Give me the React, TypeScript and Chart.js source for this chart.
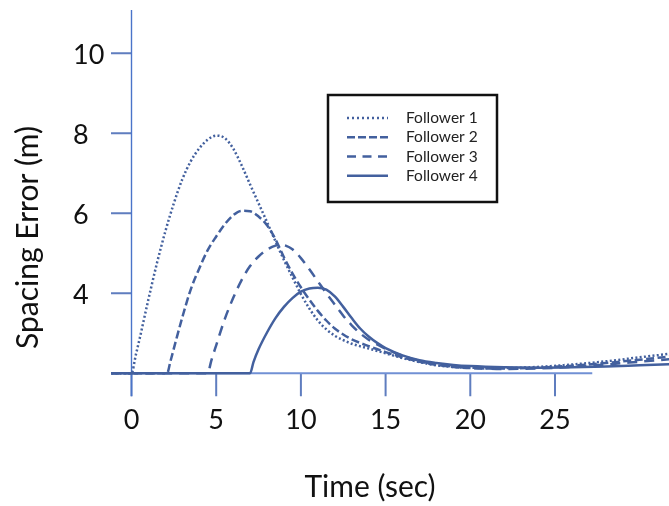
import React, { useEffect, useRef } from "react";
import { Chart, registerables } from "chart.js";

Chart.register(...registerables);

// ---- data (time in s, spacing error in m) ----
const f1Time = [-1.2, 0, 0.25, 0.5, 1, 1.5, 2, 2.5, 3, 3.5, 4, 4.5, 5, 5.5, 6, 6.5, 7, 7.5, 8, 8.5, 9, 9.5, 10, 10.5, 11, 11.5, 12, 12.5, 13, 14, 15, 16, 17, 18, 19, 20, 22, 24, 26, 28, 30, 32];
const f1Error = [2, 2, 2.45, 2.9, 3.85, 4.75, 5.55, 6.25, 6.85, 7.3, 7.62, 7.84, 7.94, 7.88, 7.62, 7.2, 6.72, 6.25, 5.78, 5.3, 4.83, 4.4, 3.98, 3.62, 3.32, 3.1, 2.94, 2.83, 2.74, 2.62, 2.5, 2.38, 2.28, 2.2, 2.16, 2.14, 2.13, 2.16, 2.22, 2.3, 2.4, 2.5];

const f2Time = [-1.2, 2.1, 2.3, 2.6, 3, 3.5, 4, 4.5, 5, 5.5, 6, 6.5, 7, 7.5, 8, 8.5, 9, 9.5, 10, 10.5, 11, 11.5, 12, 12.5, 13, 14, 15, 16, 17, 18, 19, 20, 22, 24, 26, 28, 30, 32];
const f2Error = [2, 2, 2.3, 2.78, 3.4, 4.1, 4.62, 5.08, 5.42, 5.72, 5.95, 6.06, 6.05, 5.92, 5.7, 5.35, 4.9, 4.5, 4.15, 3.84, 3.56, 3.32, 3.12, 2.97, 2.85, 2.68, 2.53, 2.4, 2.29, 2.21, 2.16, 2.13, 2.12, 2.14, 2.19, 2.26, 2.34, 2.43];

const f3Time = [-1.2, 4.5, 4.7, 5, 5.5, 6, 6.5, 7, 7.5, 8, 8.5, 8.8, 9.1, 9.5, 10, 10.5, 11, 11.5, 12, 12.5, 13, 13.5, 14, 14.5, 15, 16, 17, 18, 19, 20, 22, 24, 26, 28, 30, 32];
const f3Error = [2, 2, 2.3, 2.7, 3.35, 3.88, 4.33, 4.68, 4.92, 5.09, 5.19, 5.21, 5.19, 5.1, 4.88, 4.6, 4.3, 4.0, 3.72, 3.44, 3.2, 3.0, 2.84, 2.72, 2.61, 2.44, 2.31, 2.23, 2.17, 2.14, 2.11, 2.12, 2.16, 2.22, 2.29, 2.36];

const f4Time = [-1.2, 7, 7.2, 7.5, 8, 8.5, 9, 9.5, 10, 10.5, 11, 11.5, 12, 12.5, 13, 13.5, 14, 14.5, 15, 16, 17, 18, 19, 20, 22, 24, 26, 28, 30, 32];
const f4Error = [2, 2, 2.28, 2.6, 3.02, 3.38, 3.66, 3.88, 4.04, 4.12, 4.14, 4.09, 3.92, 3.66, 3.38, 3.12, 2.92, 2.76, 2.63, 2.45, 2.33, 2.26, 2.21, 2.18, 2.15, 2.14, 2.15, 2.17, 2.2, 2.23];

const seriesNames = ["Follower 1", "Follower 2", "Follower 3", "Follower 4"];
const xTicks = [0, 5, 10, 15, 20, 25];
const yTicks = [4, 6, 8, 10];
const xTitle = "Time (sec)";
const yTitle = "Spacing Error (m)";

// axis extents
const X_MIN = -1.21;
const X_MAX = 31.73;
const Y_MIN = 1.508;
const Y_MAX = 11.08;
const X_AXIS_FROM = -1.2;
const X_AXIS_TO = 27.2;
const Y_AXIS_BASE = 2;

const LINE = "#43609e";
const AXIS = "#4a74c9";
const TICK = "#5f7dbf";
const FONT = "Lato, 'Open Sans', sans-serif";

const plotDashes = [[2, 2.3], [8, 3.5], [10, 7], []];
const legendDashes = [[2, 3], [8, 3], [9, 6.5], []];

export default function App() {
  const ref = useRef<HTMLCanvasElement>(null);

  useEffect(() => {
    document.body.style.margin = "0";
    const canvas = ref.current!;
    const series = [
      [f1Time, f1Error],
      [f2Time, f2Error],
      [f3Time, f3Error],
      [f4Time, f4Error],
    ];

    const decor = {
      id: "decor",
      beforeDatasetsDraw(chart: any) {
        const { ctx, chartArea } = chart;
        const xs = chart.scales.x;
        const ys = chart.scales.y;
        const x0 = xs.getPixelForValue(0);
        const yb = ys.getPixelForValue(Y_AXIS_BASE);
        ctx.save();
        // tick marks
        ctx.strokeStyle = TICK;
        ctx.lineWidth = 2;
        ctx.beginPath();
        yTicks.forEach((v) => {
          const p = ys.getPixelForValue(v);
          ctx.moveTo(chartArea.left, p);
          ctx.lineTo(x0, p);
        });
        xTicks.forEach((v) => {
          const p = xs.getPixelForValue(v);
          ctx.moveTo(p, yb);
          ctx.lineTo(p, yb + 23);
        });
        ctx.stroke();
        // x axis line
        ctx.strokeStyle = "#7190d4";
        ctx.lineWidth = 2;
        ctx.beginPath();
        ctx.moveTo(xs.getPixelForValue(X_AXIS_FROM), yb);
        ctx.lineTo(xs.getPixelForValue(X_AXIS_TO), yb);
        ctx.stroke();
        // y axis line
        ctx.strokeStyle = AXIS;
        ctx.lineWidth = 1.4;
        ctx.beginPath();
        ctx.moveTo(x0, chartArea.top);
        ctx.lineTo(x0, yb + 23);
        ctx.stroke();
        ctx.restore();
      },
      afterDraw(chart: any) {
        const { ctx } = chart;
        ctx.save();
        // axis titles
        ctx.fillStyle = "#111";
        ctx.font = `30px ${FONT}`;
        ctx.textAlign = "center";
        ctx.textBaseline = "alphabetic";
        ctx.fillText(xTitle, 370, 497);
        ctx.font = `30px ${FONT}`;
        ctx.translate(28, 237.5);
        ctx.rotate(-Math.PI / 2);
        ctx.textBaseline = "middle";
        ctx.fillText(yTitle, 0, 0);
        ctx.restore();

        // legend
        ctx.save();
        ctx.strokeStyle = "#111";
        ctx.lineWidth = 2.5;
        ctx.strokeRect(328, 95, 169, 107);
        const rows = [118, 137.3, 156.5, 175.7];
        seriesNames.forEach((name, i) => {
          ctx.strokeStyle = LINE;
          ctx.lineWidth = 2.5;
          ctx.setLineDash(legendDashes[i]);
          ctx.beginPath();
          ctx.moveTo(347, rows[i]);
          ctx.lineTo(388, rows[i]);
          ctx.stroke();
          ctx.setLineDash([]);
          ctx.fillStyle = "#222";
          ctx.font = `15.5px ${FONT}`;
          ctx.textAlign = "left";
          ctx.textBaseline = "middle";
          ctx.fillText(name, 406, rows[i]);
        });
        ctx.restore();
      },
    };

    const chart = new Chart(canvas, {
      type: "line",
      data: {
        datasets: series.map(([t, e], i) => ({
          label: seriesNames[i],
          data: t.map((x, j) => ({ x, y: e[j] })),
          borderColor: LINE,
          backgroundColor: LINE,
          borderWidth: 2.5,
          borderDash: plotDashes[i],
          pointRadius: 0,
          cubicInterpolationMode: "monotone" as const,
          fill: false,
        })),
      },
      options: {
        responsive: false,
        animation: false,
        layout: { padding: { left: 73, top: 10, right: 0, bottom: 0 } },
        plugins: { legend: { display: false }, tooltip: { enabled: false } },
        scales: {
          x: {
            type: "linear",
            min: X_MIN,
            max: X_MAX,
            grid: { display: false },
            border: { display: false },
            ticks: { font: { family: FONT, size: 27 }, color: "#111", padding: 3, maxRotation: 0 },
            afterBuildTicks: (s: any) => {
              s.ticks = xTicks.map((value) => ({ value }));
            },
            afterFit: (s: any) => {
              s.height = 113;
              s.paddingLeft = 0;
              s.paddingRight = 0;
            },
          },
          y: {
            type: "linear",
            min: Y_MIN,
            max: Y_MAX,
            grid: { display: false },
            border: { display: false },
            ticks: { font: { family: FONT, size: 27 }, color: "#111", crossAlign: "far", labelOffset: 2 },
            afterBuildTicks: (s: any) => {
              s.ticks = yTicks.map((value) => ({ value }));
            },
            afterFit: (s: any) => {
              s.width = 38;
              s.paddingTop = 0;
              s.paddingBottom = 0;
            },
          },
        },
      },
      plugins: [decor],
    });
    return () => chart.destroy();
  }, []);

  return <canvas ref={ref} width={669} height={506} style={{ display: "block" }} />;
}
